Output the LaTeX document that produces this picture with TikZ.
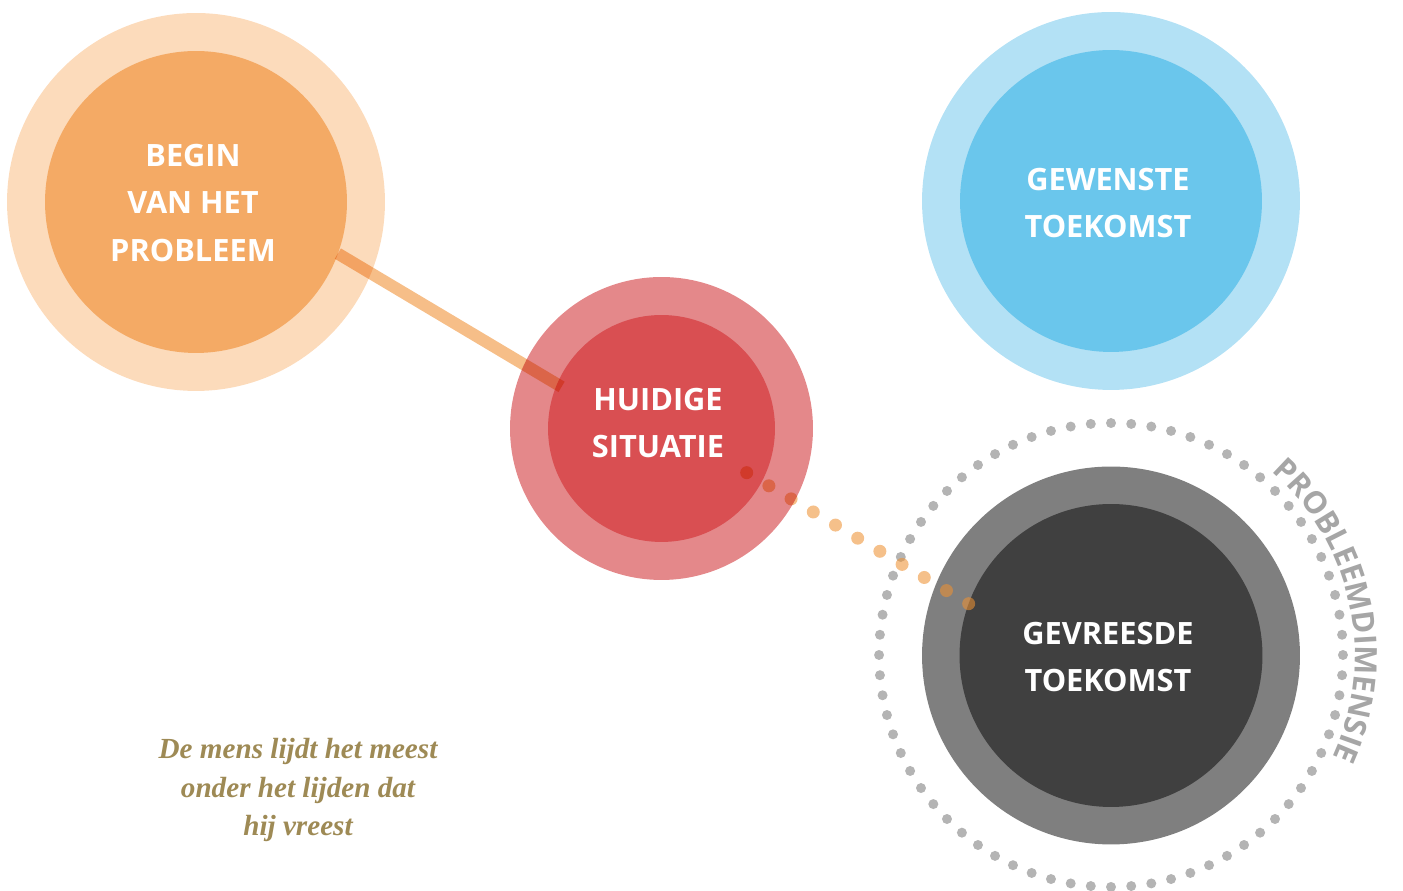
\documentclass[tikz,border=0pt]{standalone}
\usepackage{fontspec}
\setmainfont{Open Sans}
\newfontfamily\quotefont{Liberation Serif}
\usetikzlibrary{decorations.text,calc}
\definecolor{orangeout}{HTML}{FCDBBB}
\definecolor{orangein}{HTML}{F4AA65}
\definecolor{blueout}{HTML}{B3E1F5}
\definecolor{bluein}{HTML}{6AC6EC}
\definecolor{redout}{HTML}{E4888A}
\definecolor{redin}{HTML}{D94F52}
\definecolor{grayout}{HTML}{7F7F7F}
\definecolor{grayin}{HTML}{404040}
\definecolor{dotgray}{HTML}{B4B4B4}
\definecolor{linkorange}{HTML}{F6BE88}
\definecolor{dotorange}{RGB}{238,145,50}
\definecolor{quotecol}{HTML}{9E8A55}
\definecolor{labelgray}{HTML}{A6A6A6}
\begin{document}
\begin{tikzpicture}[x=0.02cm,y=0.02cm,
  disc/.style={circle, inner sep=0pt, outer sep=0pt, minimum size=#1},
  lbl/.style={text=white, font=\fontsize{17.5}{27}\selectfont\bfseries, align=center},
  quotestyle/.style={text=quotecol, font=\quotefont\bfseries\itshape\fontsize{16.6}{22}\selectfont, align=center},
  solidlink/.style={draw=linkorange, line width=0.24cm},
  orangedot/.style={fill=dotorange, fill opacity=0.57},
  reddot/.style={fill=linkorange},
  graydot/.style={fill=dotgray}]
\useasboundingbox (0,0) rectangle (1403,891);
% circles
\node[disc=7.56cm, fill=orangeout] (beginring) at (196,689) {};
\node[disc=6.04cm, fill=orangein] (begin) at (196,689) {};
\node[disc=7.56cm, fill=blueout] (gewensring) at (1111,690) {};
\node[disc=6.04cm, fill=bluein] (gewenst) at (1111,690) {};
\node[disc=6.06cm, fill=redout] (huidigring) at (661.5,462.5) {};
\node[disc=4.54cm, fill=redin] (huidige) at (661.5,462.5) {};
\node[disc=7.56cm, fill=grayout] (gevreesring) at (1111,235.5) {};
\node[disc=6.06cm, fill=grayin] (gevreesde) at (1111,235.5) {};
\coordinate (dotc) at (1111,236);
\coordinate (dotstart) at (746.7,418.3);
\coordinate (dotend) at (gevreesde.160);
% connectors
\begin{scope}[blend mode=multiply]
\foreach \a in {0,5,...,355}
  \fill[graydot] (dotc) ++(\a:4.64cm) circle (0.1cm);
\draw[solidlink] (begin.-20) -- ($(huidige.157)!-3pt!(begin.-20)$);
\foreach \i in {0,1,2}
  \fill[reddot] ($(dotstart)!\i/10!(dotend)$) circle (0.13cm);
\end{scope}
\foreach \i in {3,...,10}
  \fill[orangedot] ($(dotstart)!\i/10!(dotend)$) circle (0.13cm);
% labels
\node[lbl] (begintxt) at (193,688) {BEGIN\\VAN HET\\PROBLEEM};
\node[lbl] (gewensttxt) at (1108,688) {GEWENSTE\\TOEKOMST};
\node[lbl] (huidigetxt) at (658,468) {HUIDIGE\\SITUATIE};
\node[lbl] (gevreesdetxt) at (1108,234) {GEVREESDE\\TOEKOMST};
\node[quotestyle] (quote) at (298,101) {De mens lijdt het meest\\onder het lijden dat\\hij vreest};
\path[decorate, decoration={text along path, text align=center, text color=labelgray,
  text={|\fontsize{17.5}{17.5}\selectfont\bfseries|PROBLEEMDIMENSIE}}]
  (dotc) ++(62:4.88cm) arc[start angle=62, end angle=-38, radius=4.88cm];
\end{tikzpicture}
\end{document}
